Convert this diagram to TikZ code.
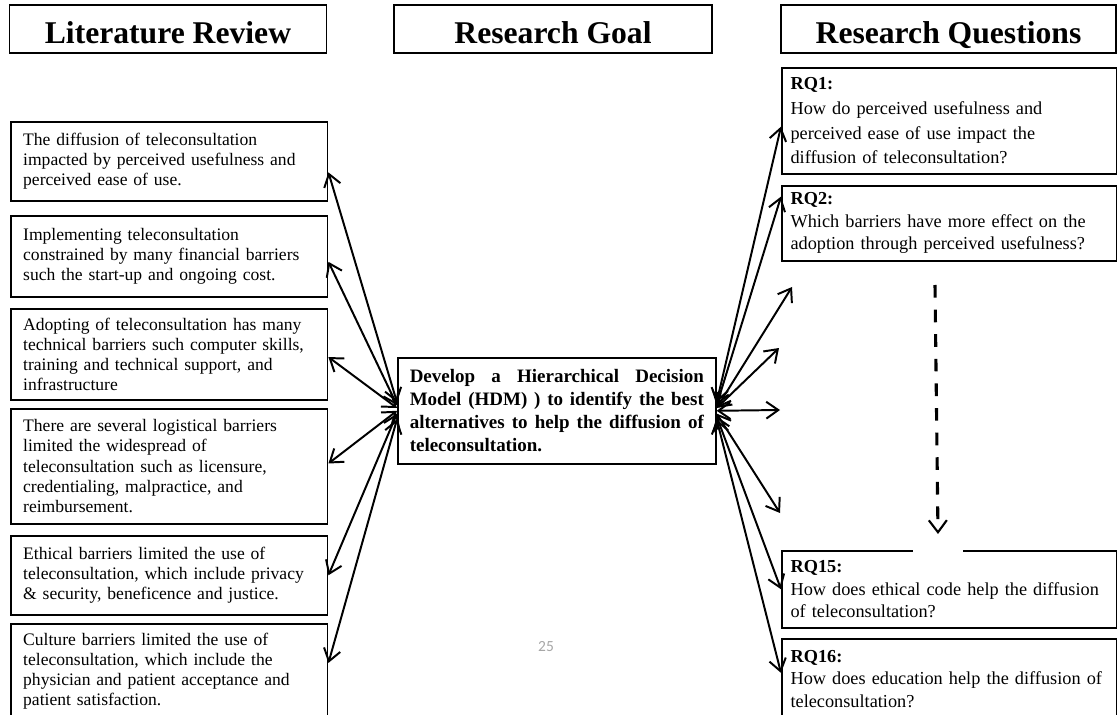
\documentclass[tikz,border=0pt]{standalone}
\usepackage{fontspec}
\setmainfont{Liberation Serif}
\newfontfamily\numfont{Carlito}
\usetikzlibrary{arrows.meta}

\tikzset{
  headbox/.style={draw, line width=1.2pt, minimum width=#1*0.025cm, minimum height=1.2cm, inner sep=0pt, text height=20pt, text depth=0pt, font=\fontsize{22.5}{27}\selectfont\bfseries},
  litbox/.style={draw, line width=1.1pt, anchor=north west, text width=7.3cm, inner xsep=0.31cm, inner ysep=0pt, minimum height=#1*0.025cm, align=left, font=\fontsize{12.5}{14.4}\selectfont},
  rqbox/.style={draw, line width=1.1pt, anchor=north west, text width=7.94cm, inner xsep=0.22cm, inner ysep=0pt, minimum height=#1*0.025cm, align=left, font=\fontsize{13}{16}\selectfont},
  goalbox/.style={draw, line width=1.1pt, anchor=north west, text width=7.35cm, inner xsep=0.3cm, inner ysep=0pt, minimum height=2.65cm, align=justify, font=\fontsize{13.5}{16.3}\selectfont\bfseries},
  conn/.style={line width=1.4pt, {Straight Barb[length=3mm,width=4.2mm]}-{Straight Barb[length=3mm,width=4.2mm]}},
  dasharrow/.style={line width=2.2pt, dash pattern=on 9pt off 8.5pt, -{Straight Barb[length=3mm,width=4.5mm,line width=1.5pt]}}
}

\begin{document}
\begin{tikzpicture}[x=0.025cm, y=-0.025cm]
  \useasboundingbox (0,0) rectangle (1117,715);

  % Column headings
  \node[headbox=317] (hlit) at (168,29) {Literature Review};
  \node[headbox=318] (hgoal) at (553,29) {Research Goal};
  \node[headbox=335] (hrq) at (948.5,29) {Research Questions};

  % Literature review
  \node[litbox=79] (lit1) at (10,121) {The diffusion of teleconsultation\\impacted by perceived usefulness and\\perceived ease of use.};
  \node[litbox=81] (lit2) at (10,215) {Implementing teleconsultation\\constrained by many financial barriers\\such the start-up and ongoing cost.};
  \node[litbox=91] (lit3) at (10,308) {Adopting of teleconsultation has many\\technical barriers such computer skills,\\training and technical support, and\\infrastructure};
  \node[litbox=115] (lit4) at (10,408) {There are several logistical barriers\\limited the widespread of\\teleconsultation such as licensure,\\credentialing, malpractice, and\\reimbursement.};
  \node[litbox=79] (lit5) at (10,535) {Ethical barriers limited the use of\\teleconsultation, which include privacy\\\& security, beneficence and justice.};
  \node[litbox=95] (lit6) at (10,623) {Culture barriers limited the use of\\teleconsultation, which include the\\physician and patient acceptance and\\patient satisfaction.};

  % Research goal
  \node[goalbox] (goal) at (397,357) {Develop a Hierarchical Decision\linebreak Model (HDM) ) to identify the best\linebreak alternatives to help the diffusion of\linebreak teleconsultation.};

  % Research questions
  \node[rqbox=106, font=\fontsize{13}{17.6}\selectfont] (rq1) at (781,67) {\textbf{RQ1:}\\How do perceived usefulness and\\perceived ease of use impact the\\diffusion of teleconsultation?};
  \node[rqbox=75] (rq2) at (781,185) {\textbf{RQ2:}\\Which barriers have more effect on the\\adoption through perceived usefulness?};
  \node[rqbox=77] (rq15) at (781,550) {\textbf{RQ15:}\\How does ethical code help the diffusion\\of teleconsultation?};
  \fill[white] (913,545) rectangle (963,555);
  \node[rqbox=80] (rq16) at (781,638) {\textbf{RQ16:}\\How does education help the diffusion of\\teleconsultation?};

  % Open ends on the right
  \coordinate (f1) at (792,287);
  \coordinate (f2) at (779,348);
  \coordinate (f3) at (780,410);
  \coordinate (f4) at (780,513);
  \coordinate (dtop) at (935,285);
  \coordinate (dbot) at (938,534);

  % Links to the literature
  \draw[conn] (goal.177) -- (lit1.-4);
  \draw[conn] (goal.178) -- (lit2.-2);
  \draw[conn] (goal.179) -- (lit3.-1);
  \draw[conn] (goal.180) -- (lit4.1);
  \draw[conn] (goal.181.5) -- (lit5.east);
  \draw[conn] (goal.183) -- (lit6.3);

  % Links to the questions
  \draw[conn] (goal.3) -- (rq1.182.7);
  \draw[conn] (goal.2) -- (rq2.171.5);
  \draw[conn] (goal.1.5) -- (f1);
  \draw[conn] (goal.1) -- (f2);
  \draw[conn] (goal.0) -- (f3);
  \draw[conn] (goal.-1.5) -- (f4);
  \draw[conn] (goal.-2.5) -- (rq15.west);
  \draw[conn] (goal.-3.5) -- (rq16.178);

  % Skipped questions
  \draw[dasharrow] (dtop) -- (dbot);

  \node[font=\numfont\fontsize{11}{13}\selectfont, text=gray!70] (pagenum) at (546,647) {25};
\end{tikzpicture}
\end{document}
